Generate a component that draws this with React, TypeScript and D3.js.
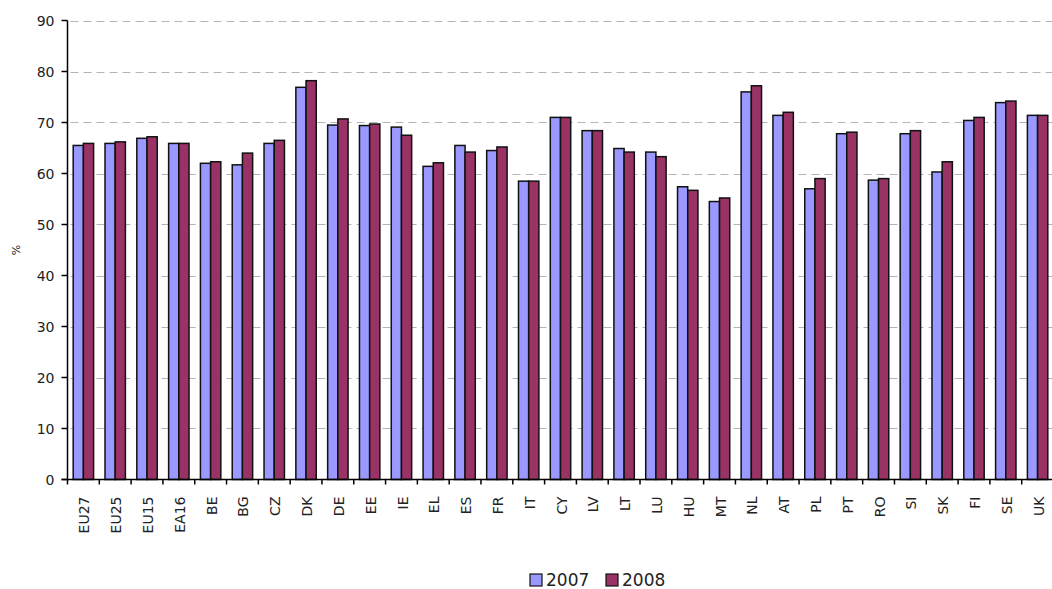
import React from "react";
import * as d3 from "d3";

const categories = ["EU27","EU25","EU15","EA16","BE","BG","CZ","DK","DE","EE","IE","EL","ES","FR","IT","CY","LV","LT","LU","HU","MT","NL","AT","PL","PT","RO","SI","SK","FI","SE","UK"];
const values2007 = [65.5,65.9,66.9,65.9,62.0,61.7,65.9,76.9,69.5,69.4,69.1,61.4,65.5,64.5,58.5,71.0,68.4,64.9,64.2,57.4,54.5,76.0,71.4,57.0,67.8,58.7,67.8,60.3,70.4,73.9,71.4];
const values2008 = [65.9,66.2,67.2,65.9,62.3,64.0,66.5,78.2,70.7,69.7,67.5,62.1,64.2,65.2,58.5,71.0,68.4,64.2,63.3,56.7,55.2,77.2,72.0,59.0,68.1,59.0,68.4,62.3,71.0,74.2,71.4];
const seriesNames = ["2007", "2008"];
const seriesColors = ["#9999FF", "#993366"];
const yTicks = [0,10,20,30,40,50,60,70,80,90];

const W = 1052, H = 589;
const left = 67.5, right = 1053.5, top = 20.5, bottom = 479.5;
const font = "'DejaVu Sans', Verdana, sans-serif";

export default function App() {
  const x = d3.scaleBand<string>().domain(categories).range([left, right]).padding(0);
  const bw = x.bandwidth();
  const inner = d3.scaleBand<string>().domain(seriesNames).range([bw / 2 - 10.2, bw / 2 + 10.2]).padding(0);
  const y = d3.scaleLinear().domain([0, 90]).range([bottom, top]);
  const series = [values2007, values2008];

  return (
    <svg width={W} height={H} style={{ position: "absolute", left: 0, top: 0, background: "#fff" }} fontFamily={font}>
      <rect x={0} y={0} width={W} height={H} fill="#fff" />
      {yTicks.filter(t => t > 0).map(t => (
        <line key={"g" + t} x1={left + 3} x2={W} y1={Math.round(y(t)) + 0.5} y2={Math.round(y(t)) + 0.5}
          stroke="#b4b4b4" strokeWidth={1.2} strokeDasharray="8,5" />
      ))}
      {categories.map((c, i) => (
        <g key={c} transform={`translate(${x(c)},0)`}>
          {series.map((vals, s) => (
            <rect key={s} x={inner(seriesNames[s])} y={y(vals[i])} width={inner.bandwidth()}
              height={y(0) - y(vals[i])} fill={seriesColors[s]} stroke="#111" strokeWidth={1.5} />
          ))}
        </g>
      ))}
      <line x1={left} x2={left} y1={top} y2={bottom} stroke="#000" strokeWidth={1.5} />
      <line x1={left - 6} x2={W} y1={bottom} y2={bottom} stroke="#000" strokeWidth={1.5} />
      {yTicks.map(t => (
        <g key={"t" + t}>
          <line x1={left - 6} x2={left} y1={y(t)} y2={y(t)} stroke="#000" strokeWidth={1.5} />
          <text x={left - 13} y={y(t)} dy="0.36em" textAnchor="end" fontSize={14} fill="#222">{t}</text>
        </g>
      ))}
      {categories.map((c, i) => (
        <line key={"xt" + c} x1={x(c)} x2={x(c)} y1={bottom} y2={bottom + 5} stroke="#000" strokeWidth={1.5} />
      ))}
      {categories.map(c => (
        <text key={"xl" + c} transform={`translate(${(x(c) as number) + bw / 2 + 1},${bottom + 17}) rotate(-90)`}
          textAnchor="end" dy="0.36em" fontSize={14} fill="#222">{c}</text>
      ))}
      <text transform={`translate(16,250) rotate(-90)`} textAnchor="middle" dy="0.36em" fontSize={11} fill="#222">%</text>
      {seriesNames.map((n, s) => {
        const lx = 530 + s * 76;
        return (
          <g key={"lg" + n}>
            <rect x={lx} y={574} width={12} height={12} fill={seriesColors[s]} stroke="#111" strokeWidth={1.2} />
            <text x={lx + 16} y={586} fontSize={17} fill="#222">{n}</text>
          </g>
        );
      })}
    </svg>
  );
}
